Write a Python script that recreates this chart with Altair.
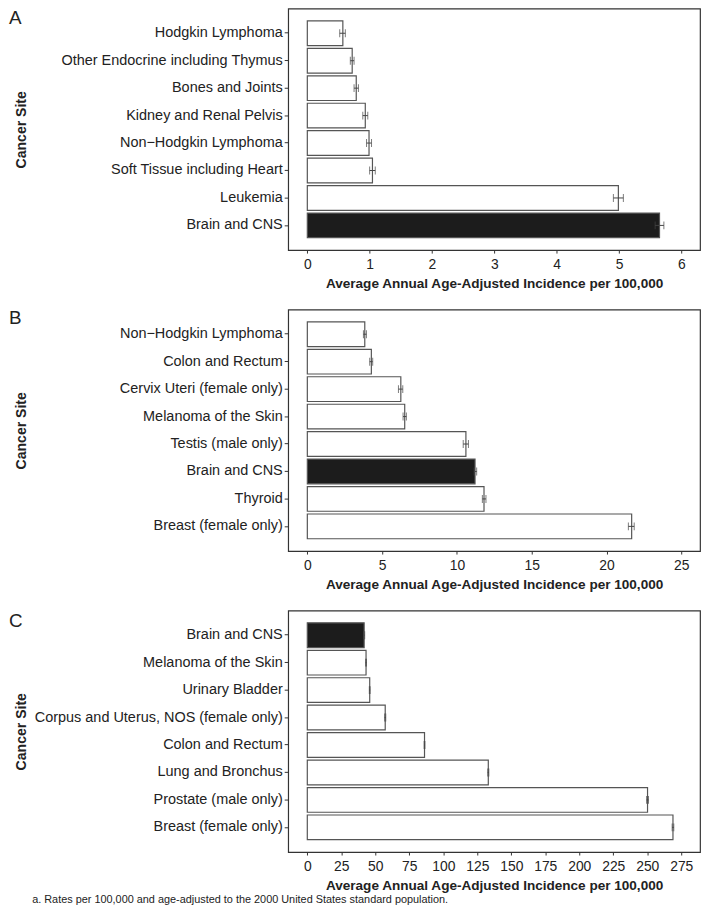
import altair as alt
import pandas as pd

FONT = "Liberation Sans"
TXT = "#222222"

# Panel A
sites_a = ["Hodgkin Lymphoma", "Other Endocrine including Thymus", "Bones and Joints",
           "Kidney and Renal Pelvis", "Non\u2212Hodgkin Lymphoma", "Soft Tissue including Heart",
           "Leukemia", "Brain and CNS"]
rates_a = [0.57, 0.72, 0.785, 0.93, 0.99, 1.045, 4.99, 5.65]
lo_a = [0.52, 0.69, 0.75, 0.89, 0.95, 1.00, 4.91, 5.58]
hi_a = [0.61, 0.75, 0.82, 0.97, 1.03, 1.09, 5.07, 5.72]
ticks_a = [0, 1, 2, 3, 4, 5, 6]

# Panel B
sites_b = ["Non\u2212Hodgkin Lymphoma", "Colon and Rectum", "Cervix Uteri (female only)",
           "Melanoma of the Skin", "Testis (male only)", "Brain and CNS", "Thyroid",
           "Breast (female only)"]
rates_b = [3.84, 4.28, 6.25, 6.51, 10.6, 11.21, 11.81, 21.68]
lo_b = [3.75, 4.17, 6.09, 6.40, 10.42, 11.15, 11.70, 21.46]
hi_b = [3.95, 4.37, 6.38, 6.62, 10.77, 11.32, 11.94, 21.85]
ticks_b = [0, 5, 10, 15, 20, 25]

# Panel C
sites_c = ["Brain and CNS", "Melanoma of the Skin", "Urinary Bladder",
           "Corpus and Uterus, NOS (female only)", "Colon and Rectum", "Lung and Bronchus",
           "Prostate (male only)", "Breast (female only)"]
rates_c = [41.8, 43.2, 45.9, 57.3, 86.2, 133.1, 250.2, 268.9]
lo_c = [41.4, 42.9, 45.6, 56.9, 85.9, 132.7, 249.5, 268.3]
hi_c = [42.2, 43.5, 46.2, 57.7, 86.5, 133.5, 250.9, 269.5]
ticks_c = [0, 25, 50, 75, 100, 125, 150, 175, 200, 225, 250, 275]

X_TITLE = "Average Annual Age-Adjusted Incidence per 100,000"
Y_TITLE = "Cancer Site"
FOOTNOTE = "a. Rates per 100,000 and age-adjusted to the 2000 United States standard population."


def panel(letter, sites, rates, lo, hi, domain, ticks, letter_y):
    df = pd.DataFrame({"site": sites, "rate": rates, "lo": lo, "hi": hi})
    xs = alt.Scale(domain=domain, nice=False, zero=False)
    ys = alt.Scale(paddingInner=0.1, paddingOuter=0.45)
    y_axis = alt.Axis(labelFontSize=14.6, labelFont=FONT, labelColor=TXT,
                      titleFontSize=14.2, titleFont=FONT, titleFontWeight="bold", titleColor=TXT,
                      tickSize=4, tickColor="#333333", labelPadding=2, domain=False, grid=False,
                      minExtent=256, maxExtent=256, titlePadding=6, labelLimit=400)
    x_axis = alt.Axis(values=ticks, labelFontSize=14, labelFont=FONT,
                      labelColor=TXT, titleFontSize=13.7, titleFont=FONT,
                      titleFontWeight="bold", titleColor=TXT, tickSize=3,
                      tickColor="#333333", labelPadding=5, domain=False, grid=False,
                      titlePadding=5, labelFlush=False)
    y_enc = alt.Y("site:N", sort=sites, scale=ys, axis=y_axis, title=Y_TITLE)

    def xe(field):
        return alt.X(field, type="quantitative", scale=xs, axis=x_axis, title=X_TITLE)

    base = alt.Chart(df)
    bars = base.mark_bar(stroke="#555555", strokeWidth=1.2).encode(
        x=xe("rate"),
        x2=alt.datum(0),
        y=y_enc,
        fill=alt.when(alt.datum.site == "Brain and CNS")
        .then(alt.value("#1c1c1c"))
        .otherwise(alt.value("white")),
    )
    err = base.mark_rule(color="#444444", strokeWidth=1).encode(
        x=xe("lo"), x2="hi:Q", y=y_enc
    )
    cap_lo = base.mark_tick(color="#444444", thickness=1, size=8).encode(
        x=xe("lo"), y=y_enc
    )
    cap_hi = base.mark_tick(color="#444444", thickness=1, size=8).encode(
        x=xe("hi"), y=y_enc
    )
    lab = alt.Chart(pd.DataFrame({"t": [letter]})).mark_text(
        align="left", baseline="top", fontSize=19, font=FONT, color=TXT
    ).encode(x=alt.value(-282), y=alt.value(letter_y), text="t:N")
    return alt.layer(bars, err, cap_lo, cap_hi, lab).properties(width=416, height=244)


pa = panel("A", sites_a, rates_a, lo_a, hi_a, [-0.307, 6.30], ticks_a, 1)
pb = panel("B", sites_b, rates_b, lo_b, hi_b, [-1.28, 26.25], ticks_b, 0)
pc = panel("C", sites_c, rates_c, lo_c, hi_c, [-14.06, 288.8], ticks_c, 2)

chart = alt.vconcat(pa, pb, pc, spacing=17).properties(
    title=alt.TitleParams(FOOTNOTE, orient="bottom", anchor="start", fontSize=11,
                          fontWeight="normal", font=FONT, color=TXT, dx=24, offset=1),
    padding={"left": 0, "top": -5, "right": 2, "bottom": 2},
    background="white",
).configure_view(stroke="#333333", strokeWidth=1.2)

chart.save("out.html", embed_options={"renderer": "svg", "actions": False})
